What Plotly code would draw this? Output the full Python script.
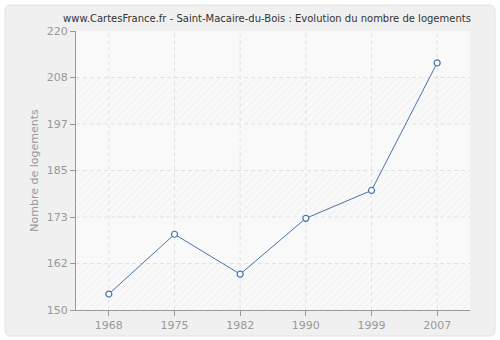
import numpy as np
import plotly.graph_objects as go

years = ["1968", "1975", "1982", "1990", "1999", "2007"]
logements = [154, 169, 159, 173, 180, 212]
y_tick_labels = ["150", "162", "173", "185", "197", "208", "220"]

y_min, y_max = 150, 220
y_tickvals = list(np.linspace(y_min, y_max, len(y_tick_labels)))

W, H = 500, 340
L, R, T, B = 76, 30, 31, 30
pw, ph = W - L - R, H - T - B
GRID = "#e2e2e2"
LINE = "#4a74aa"

def px(x):
    return (x - L) / pw

def py(y):
    return (H - B - y) / ph

fig = go.Figure()

# alternating background bands (hatched / plain) on hidden numeric axis x
for i in range(len(y_tickvals) - 1):
    lo, hi = y_tickvals[i], y_tickvals[i + 1]
    hatched = (i % 2 == 0)
    fig.add_trace(go.Bar(
        x=[0.5], y=[hi - lo], base=[lo], width=[1],
        xaxis="x", yaxis="y",
        marker=dict(
            color="#f9f9f9",
            line=dict(width=0),
            pattern=dict(shape="/" if hatched else "", fgcolor="#ebebeb",
                         bgcolor="#f9f9f9", size=5, solidity=0.25),
        ),
        hoverinfo="skip", showlegend=False,
    ))

# horizontal dashed grid lines
for t in y_tickvals[1:-1]:
    fig.add_trace(go.Scatter(
        x=[0, 1], y=[t, t], xaxis="x", yaxis="y", mode="lines",
        line=dict(color=GRID, width=1, dash="4px,3px"),
        hoverinfo="skip", showlegend=False,
    ))

# vertical dashed grid lines at categories
for yr in years:
    fig.add_trace(go.Scatter(
        x=[yr, yr], y=[y_min, y_max], xaxis="x2", yaxis="y",
        mode="lines", line=dict(color=GRID, width=1, dash="4px,3px"),
        hoverinfo="skip", showlegend=False,
    ))

fig.add_trace(go.Scatter(
    x=years, y=logements, mode="lines+markers", xaxis="x2", yaxis="y",
    line=dict(color=LINE, width=1),
    marker=dict(symbol="circle", size=6, color="white",
                line=dict(color=LINE, width=1.2)),
    showlegend=False,
))

# outer rounded panel
x0, x1 = px(5), px(495)
y0, y1 = py(336), py(5)
rx, ry = 6 / pw, 6 / ph
path = (f"M {x0+rx},{y1} L {x1-rx},{y1} Q {x1},{y1} {x1},{y1-ry} "
        f"L {x1},{y0+ry} Q {x1},{y0} {x1-rx},{y0} L {x0+rx},{y0} "
        f"Q {x0},{y0} {x0},{y0+ry} L {x0},{y1-ry} Q {x0},{y1} {x0+rx},{y1} Z")
fig.add_shape(type="path", path=path, xref="paper", yref="paper",
              fillcolor="#f0f0f0", line=dict(color="#e2e2e2", width=1),
              layer="below")

fig.update_layout(
    width=W, height=H,
    autosize=False,
    margin=dict(l=L, r=R, t=T, b=B, pad=0, autoexpand=False),
    paper_bgcolor="white",
    plot_bgcolor="#f9f9f9",
    font=dict(family="DejaVu Sans", size=11, color="#999999"),
    title=dict(text="www.CartesFrance.fr - Saint-Macaire-du-Bois : Evolution du nombre de logements",
               x=267 / W, xanchor="center", y=1 - 18 / H, yanchor="middle",
               font=dict(family="DejaVu Sans", size=10, color="#333333")),
    bargap=0, barmode="overlay",
    xaxis=dict(range=[0, 1], visible=False, showgrid=False, zeroline=False,
               fixedrange=True, automargin=False),
    xaxis2=dict(
        type="category", range=[-0.5, 5.5], overlaying="x", side="bottom",
        showgrid=False, automargin=False,
        showline=True, linecolor="#999999", linewidth=1,
        ticks="outside", ticklen=5, tickcolor="#999999",
        tickfont=dict(size=11, color="#999999"),
        zeroline=False,
    ),
    yaxis=dict(
        range=[y_min, y_max], tickvals=y_tickvals, ticktext=y_tick_labels,
        showgrid=False, automargin=False,
        showline=True, linecolor="#999999", linewidth=1,
        ticks="outside", ticklen=5, tickcolor="#999999",
        tickfont=dict(size=11, color="#999999"),
        title=dict(text="Nombre de logements", standoff=5,
                   font=dict(size=11, color="#999999")),
        zeroline=False,
    ),
)

fig.write_html("out.html")
